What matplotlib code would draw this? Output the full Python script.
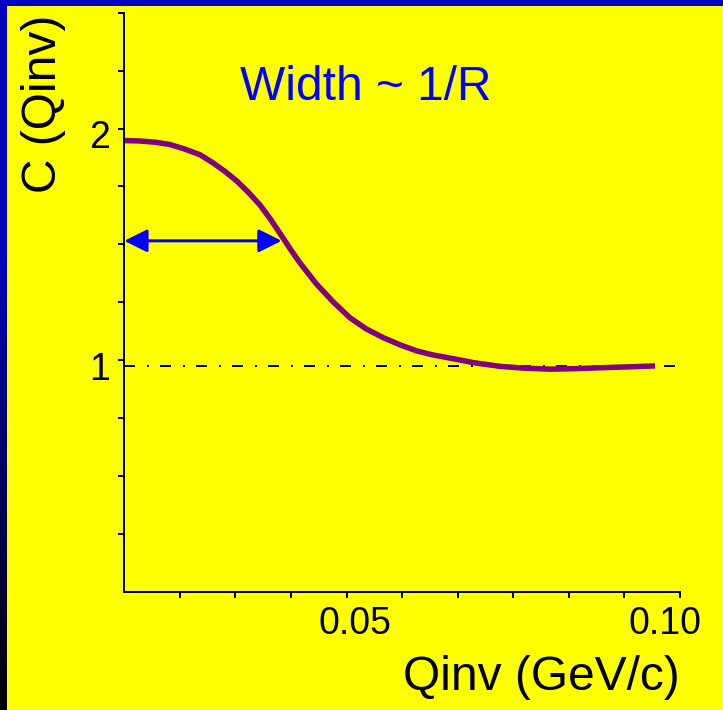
import numpy as np
import matplotlib
matplotlib.use("Agg")
import matplotlib.pyplot as plt
from matplotlib.transforms import ScaledTranslation

plt.rcParams["font.family"] = ["Liberation Sans", "DejaVu Sans"]

# correlation function
qinv = [0.0, 0.0028, 0.0055, 0.0082, 0.0109, 0.0136, 0.0160, 0.0181,
        0.0203, 0.0223, 0.0244, 0.0262, 0.0283, 0.0298, 0.0316, 0.0346,
        0.0376, 0.0406, 0.0435, 0.0466, 0.0496, 0.0526, 0.0554, 0.0583,
        0.0631, 0.0676, 0.0721, 0.0766, 0.0811, 0.0856, 0.0910, 0.0955]
corr = [1.948, 1.946, 1.941, 1.931, 1.911, 1.887, 1.851, 1.815,
        1.772, 1.725, 1.670, 1.612, 1.537, 1.482, 1.420, 1.328,
        1.251, 1.183, 1.135, 1.097, 1.066, 1.040, 1.023, 1.010,
        0.988, 0.973, 0.965, 0.961, 0.963, 0.967, 0.971, 0.975]
baseline = 0.975
width_q = [0.0, 0.0283]
width_c = 1.515

x_ticks = [0.01 * i for i in range(1, 11)]
x_ticklabels = ["" if i not in (5, 10) else ("0.05" if i == 5 else "0.10") for i in range(1, 11)]
y_ticks = [0.25 * i for i in range(1, 11)]
y_ticklabels = ["1" if v == 1.0 else "2" if v == 2.0 else "" for v in y_ticks]

YELLOW = "#FFFF00"
PURPLE = "#800080"
BLUE = "#0000FF"

W, H, DPI = 723, 710, 100
fig = plt.figure(figsize=(W / DPI, H / DPI), dpi=DPI, facecolor=YELLOW)

# slide frame: blue top band, blue->black left band
top = fig.add_axes([0, 1 - 6 / H, 1, 6 / H])
top.set_axis_off()
top.add_patch(plt.Rectangle((0, 0), 1, 1, color="#0000C0", transform=top.transAxes))
left = fig.add_axes([0, 0, 7 / W, 1])
t = np.linspace(0, 1, 256)
b = np.where(t < 0.35, 0.76, 0.76 * (1 - (t - 0.35) / 0.65))
grad = np.zeros((256, 1, 3))
grad[:, 0, 2] = b
left.imshow(grad, aspect="auto", extent=[0, 1, 1, 0])
left.set_axis_off()

ax = fig.add_axes([124.3 / W, (H - 591.7) / H, (680 - 124.3) / W, (591.7 - 12.7) / H])
ax.set_facecolor(YELLOW)
ax.set_xlim(0, 0.10)
ax.set_ylim(0, 2.5)

lw_px = 72 / DPI
ax.plot([0, 0.10], [baseline, baseline], color="black", lw=2 * lw_px,
        dashes=(5.5, 6, 1, 5.5))
ax.plot(qinv, corr, color=PURPLE, lw=5.5 * lw_px, solid_joinstyle="round",
        solid_capstyle="butt")
ax.annotate("", xy=(width_q[0], width_c), xytext=(width_q[1], width_c),
            arrowprops=dict(arrowstyle="<|-|>,head_length=14,head_width=7",
                            mutation_scale=1, color=BLUE, lw=3 * lw_px,
                            shrinkA=0, shrinkB=0))

for s in ("top", "right"):
    ax.spines[s].set_visible(False)
for s in ("left", "bottom"):
    ax.spines[s].set_linewidth(2 * lw_px)

ax.set_xticks(x_ticks, x_ticklabels)
ax.set_yticks(y_ticks, y_ticklabels)
ax.tick_params(direction="out", length=6 * lw_px, width=2 * lw_px,
               labelsize=27, pad=8 * lw_px)

# tick labels sit a little off their ticks in the original
for lab, dx in zip(ax.get_xticklabels(), [0] * 4 + [-47] + [0] * 4 + [-15]):
    lab.set_transform(lab.get_transform() + ScaledTranslation(dx / DPI, 0, fig.dpi_scale_trans))
for lab in ax.get_yticklabels():
    lab.set_transform(lab.get_transform() + ScaledTranslation(0, -6 / DPI, fig.dpi_scale_trans))

fig.text(366 / W, (H - 100) / H, "Width ~ 1/R", color=BLUE, fontsize=34.5,
         ha="center", va="baseline")
fig.text(44 / W, (H - 104) / H, "C (Qinv)", rotation=90, fontsize=34.5,
         ha="center", va="center")
fig.text(680 / W, (H - 678) / H, "Qinv (GeV/c)", fontsize=34.5,
         ha="right", va="center")

fig.savefig("out.png", dpi=DPI, facecolor=YELLOW)
